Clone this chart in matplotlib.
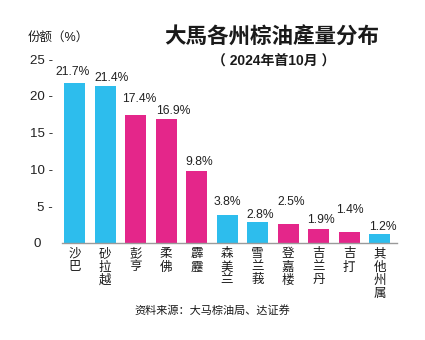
import matplotlib
matplotlib.use("Agg")
import matplotlib.pyplot as plt

plt.rcParams['font.family'] = ['Liberation Sans', 'Noto Sans CJK SC', 'DejaVu Sans']

states = ["沙巴", "砂拉越", "彭亨", "柔佛", "霹靂", "森美兰", "雪兰莪", "登嘉楼", "吉兰丹", "吉打", "其他州属"]
shares = [21.7, 21.4, 17.4, 16.9, 9.8, 3.8, 2.8, 2.5, 1.9, 1.4, 1.2]
groups = ["c", "c", "m", "m", "m", "c", "c", "m", "m", "m", "c"]
yticks = [0, 5, 10, 15, 20, 25]

CYAN = "#2DBDED"
MAGENTA = "#E4268A"
INK = "#1a1a1a"
colors = [CYAN if g == "c" else MAGENTA for g in groups]

# label placement (pixels above bar top / sideways nudge) so neighbours don't collide
lift_px = [11, 8, 16, 8, 9, 13, 7, 22, 9, 22, 7]
nudge_px = [-2, 7, 4, 7, 3, 0, 3, 3, 2, 1, 3]

fig = plt.figure(figsize=(4.25, 3.4), dpi=100)
ax = fig.add_axes([0.146, 0.286, 0.788, 0.540])

x = list(range(len(states)))
ax.bar(x, shares, width=0.69, color=colors, zorder=2)

px2pt = 0.72
for xi, v, dy, dx in zip(x, shares, lift_px, nudge_px):
    ax.annotate(f"{v}%", (xi, v), xytext=(dx * px2pt, dy * px2pt),
                textcoords="offset points", ha="center", va="center",
                fontsize=8.7, color="#222222", annotation_clip=False)

ax.set_xlim(-0.41, 10.57)
ax.set_ylim(0, 25)
ax.set_yticks(yticks)
ax.set_yticklabels([f"{t} -" if t else "0   " for t in yticks], fontsize=9.6, color="#222222")
ax.set_xticks(x)
ax.set_xticklabels(["\n".join(s) for s in states], fontsize=9, color=INK,
                   linespacing=1.12, va="top")
ax.tick_params(axis="y", length=0, pad=6.5)
ax.tick_params(axis="x", length=0, pad=4)

for side in ("left", "right", "top"):
    ax.spines[side].set_visible(False)
ax.spines["bottom"].set_color("#9a9a9a")
ax.spines["bottom"].set_linewidth(1.0)

fig.text(0.066, 0.89, "份额（%）", fontsize=9, color=INK, ha="left", va="center")
fig.text(0.64, 0.888, "大馬各州棕油產量分布", fontsize=15.5, fontweight="bold",
         color=INK, ha="center", va="center")
fig.text(0.643, 0.82, "（ 2024年首10月 ）", fontsize=10, fontweight="bold",
         color=INK, ha="center", va="center")
fig.text(0.50, 0.088, "资料来源：大马棕油局、达证券", fontsize=8, color=INK,
         ha="center", va="center")

fig.savefig("out.png", dpi=100, facecolor="white")
